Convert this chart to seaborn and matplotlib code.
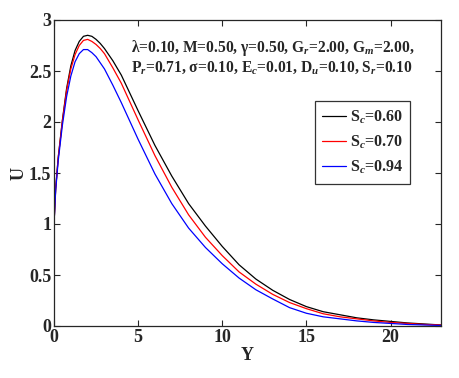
import numpy as np
import pandas as pd
import matplotlib
matplotlib.use("Agg")
import matplotlib.pyplot as plt
import seaborn as sns

y_pts = [0, 0.1, 0.25, 0.5, 0.75, 1.0, 1.25, 1.5, 1.75, 2.0, 2.25, 2.5, 2.75, 3.0, 3.5, 4.0,
         5.0, 6.0, 7.0, 8.0, 9.0, 10.0, 11.0, 12.0, 13.0, 14.0, 15.0, 16.0, 17.0,
         18.0, 19.0, 20.0, 21.0, 22.0, 23.0]
u_sc060 = [1.00, 1.35, 1.65, 2.02, 2.33, 2.55, 2.70, 2.79, 2.84, 2.85, 2.84, 2.81, 2.77, 2.72, 2.60, 2.46,
           2.11, 1.77, 1.47, 1.20, 0.98, 0.78, 0.60, 0.46, 0.35, 0.26, 0.19, 0.14, 0.11,
           0.08, 0.06, 0.045, 0.03, 0.02, 0.01]
u_sc070 = [1.00, 1.35, 1.65, 2.01, 2.31, 2.52, 2.66, 2.75, 2.80, 2.81, 2.79, 2.76, 2.72, 2.67, 2.53, 2.38,
           2.02, 1.67, 1.36, 1.09, 0.87, 0.69, 0.53, 0.41, 0.31, 0.23, 0.17, 0.12, 0.09,
           0.07, 0.05, 0.035, 0.025, 0.015, 0.01]
u_sc094 = [1.00, 1.33, 1.62, 1.97, 2.25, 2.45, 2.59, 2.67, 2.71, 2.71, 2.68, 2.64, 2.58, 2.52, 2.36, 2.19,
           1.83, 1.49, 1.20, 0.96, 0.77, 0.61, 0.47, 0.355, 0.265, 0.18, 0.125, 0.09, 0.07,
           0.05, 0.035, 0.025, 0.015, 0.01, 0.005]
labels = ["S$_c$=0.60", "S$_c$=0.70", "S$_c$=0.94"]
colors = ["black", "red", "blue"]
x_ticks = [0, 5, 10, 15, 20]
y_ticks = [0, 0.5, 1, 1.5, 2, 2.5, 3]
y_ticklabels = ["0", "0.5", "1", "1.5", "2", "2.5", "3"]
param_line1 = r"λ=0.10, M=0.50, γ=0.50, G$_r$=2.00, G$_m$=2.00,"
param_line2 = r"P$_r$=0.71, σ=0.10, E$_c$=0.01, D$_u$=0.10, S$_r$=0.10"

sns.set_style("ticks")
plt.rcParams["font.family"] = ["Liberation Serif", "DejaVu Serif"]
plt.rcParams["font.weight"] = "bold"
plt.rcParams["mathtext.fontset"] = "custom"
plt.rcParams["mathtext.rm"] = "Liberation Serif:bold"
plt.rcParams["mathtext.it"] = "Liberation Serif:italic:bold"
plt.rcParams["mathtext.bf"] = "Liberation Serif:bold"

df = pd.concat([
    pd.DataFrame({"Y": y_pts, "U": u, "case": lab})
    for u, lab in zip([u_sc060, u_sc070, u_sc094], labels)
])

W, H = 459, 378
fig = plt.figure(figsize=(W/100, H/100), dpi=100)
ax = fig.add_axes([54/W, 1-326/H, (441-54)/W, (326-20)/H])
sns.lineplot(data=df, x="Y", y="U", hue="case", palette=colors, linewidth=0.9, ax=ax)

ax.set_xlim(0, 23)
ax.set_ylim(0, 3)
ax.set_xticks(x_ticks)
ax.set_yticks(y_ticks)
ax.set_xticklabels([str(t) for t in x_ticks], fontsize=13, fontweight="bold")
ax.set_yticklabels(y_ticklabels, fontsize=13, fontweight="bold")
ax.tick_params(direction="in", top=True, right=True, length=4, width=0.8, pad=2)
for s in ax.spines.values():
    s.set_visible(True)
    s.set_linewidth(0.9)
ax.set_xlabel("Y", fontsize=13, fontweight="bold", labelpad=1)
ax.set_ylabel("U", fontsize=13, fontweight="bold")
ax.yaxis.set_label_coords((28-54)/387, 0.5)

ax.text(131/W, 1-52/H, param_line1, transform=fig.transFigure,
        fontsize=11.2, fontweight="bold", va="baseline")
ax.text(131/W, 1-72/H, param_line2, transform=fig.transFigure,
        fontsize=11.2, fontweight="bold", va="baseline")

leg = ax.legend(loc="upper right", bbox_to_anchor=((410-54)/387, (326-101)/306),
                frameon=True, fancybox=False, edgecolor="black", fontsize=11.5,
                handlelength=1.5, borderpad=0.45, labelspacing=0.5, handletextpad=0.2,
                borderaxespad=0)
leg.get_frame().set_linewidth(0.9)
for t in leg.get_texts():
    t.set_fontweight("bold")

fig.savefig("out.png", dpi=100)
